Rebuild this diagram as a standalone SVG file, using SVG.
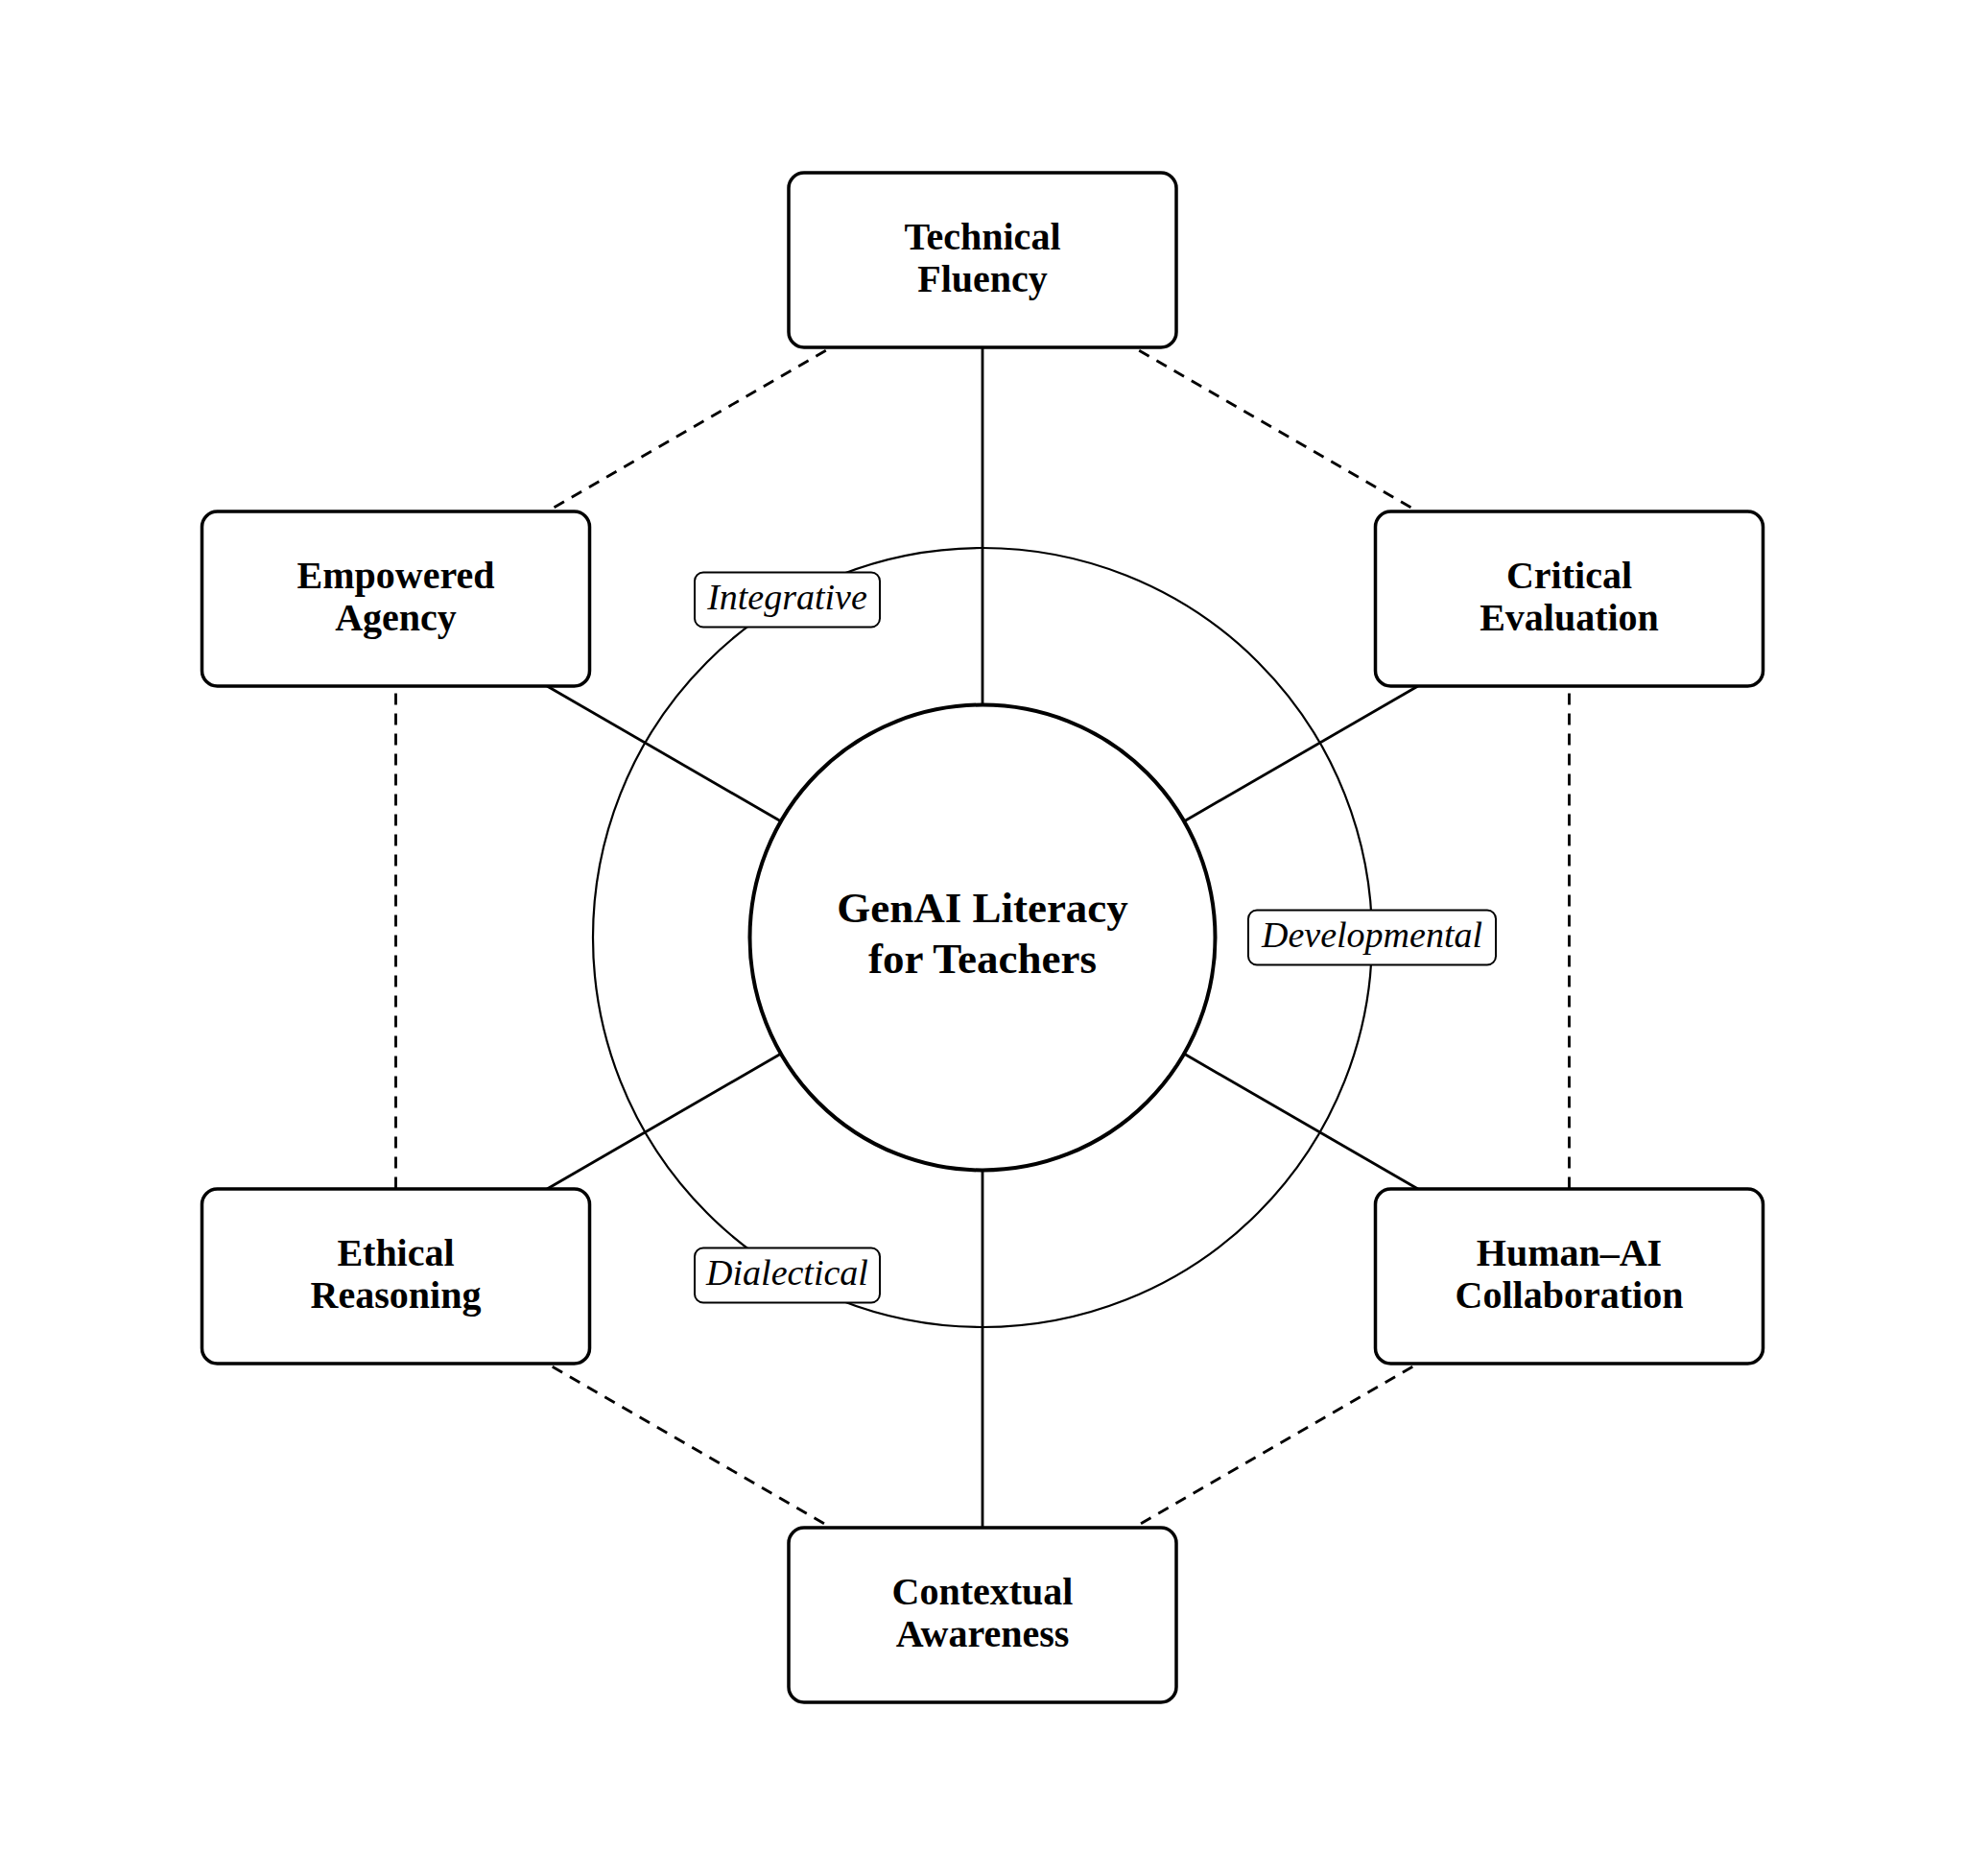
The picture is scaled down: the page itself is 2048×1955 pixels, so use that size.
<svg xmlns="http://www.w3.org/2000/svg" width="2048" height="1955" viewBox="0 0 2048 1955">
<style>
.node rect{fill:#fff;stroke:#000;stroke-width:3.5}
.node text{font-family:"Liberation Serif","Times New Roman",serif;font-weight:bold;font-size:40px;text-anchor:middle;fill:#000}
.spoke{stroke:#000;stroke-width:2.8;fill:none}
.dash{stroke:#000;stroke-width:2.8;fill:none;stroke-dasharray:12 9;stroke-dashoffset:14.5}
.lbl rect{fill:#fff;stroke:#000;stroke-width:2}
.lbl text{font-family:"Liberation Serif","Times New Roman",serif;font-style:italic;font-size:38px;text-anchor:middle;fill:#000}
.hub text{font-family:"Liberation Serif","Times New Roman",serif;font-weight:bold;font-size:45px;text-anchor:middle;fill:#000}
</style>
<rect width="2048" height="1955" fill="#fff"/>
<circle id="ring" cx="1024" cy="977" r="406" fill="none" stroke="#000" stroke-width="2.2"/>
<g id="connectors">
<line class="dash" x1="866.4" y1="362" x2="570.1" y2="533"/>
<line class="dash" x1="1181.6" y1="362" x2="1477.9" y2="533"/>
<line class="dash" x1="412.5" y1="716" x2="412.5" y2="1239"/>
<line class="dash" x1="1635.5" y1="716" x2="1635.5" y2="1239"/>
<line class="dash" x1="570.1" y1="1421" x2="866.4" y2="1592"/>
<line class="dash" x1="1477.9" y1="1421" x2="1181.6" y2="1592"/>
<line class="spoke" x1="1024" y1="734.5" x2="1024" y2="362"/>
<line class="spoke" x1="1024" y1="1219.5" x2="1024" y2="1592"/>
<line class="spoke" x1="813.6" y1="855.7" x2="570.2" y2="715"/>
<line class="spoke" x1="1234.4" y1="855.7" x2="1477.8" y2="715"/>
<line class="spoke" x1="813.6" y1="1098.3" x2="570.2" y2="1239"/>
<line class="spoke" x1="1234.4" y1="1098.3" x2="1477.8" y2="1239"/>
</g>
<g id="hub" class="hub">
<circle cx="1024" cy="977" r="242.5" fill="#fff" stroke="#000" stroke-width="4"/>
<text x="1024" y="961">GenAI Literacy</text>
<text x="1024" y="1014">for Teachers</text>
</g>
<g id="label-integrative" class="lbl">
<rect x="724" y="596.5" width="193" height="57" rx="9"/>
<text x="820.5" y="635">Integrative</text>
</g>
<g id="label-developmental" class="lbl">
<rect x="1301" y="948.5" width="258" height="57" rx="9"/>
<text x="1430" y="987">Developmental</text>
</g>
<g id="label-dialectical" class="lbl">
<rect x="724" y="1300.5" width="193" height="57" rx="9"/>
<text x="820.5" y="1339">Dialectical</text>
</g>
<g id="node-technical" class="node">
<rect x="822" y="180" width="404" height="182" rx="16"/>
<text x="1024" y="259.5">Technical</text>
<text x="1024" y="303.5">Fluency</text>
</g>
<g id="node-empowered" class="node">
<rect x="210.5" y="533" width="404" height="182" rx="16"/>
<text x="412.5" y="612.5">Empowered</text>
<text x="412.5" y="656.5">Agency</text>
</g>
<g id="node-critical" class="node">
<rect x="1433.5" y="533" width="404" height="182" rx="16"/>
<text x="1635.5" y="612.5">Critical</text>
<text x="1635.5" y="656.5">Evaluation</text>
</g>
<g id="node-ethical" class="node">
<rect x="210.5" y="1239" width="404" height="182" rx="16"/>
<text x="412.5" y="1318.5">Ethical</text>
<text x="412.5" y="1362.5">Reasoning</text>
</g>
<g id="node-humanai" class="node">
<rect x="1433.5" y="1239" width="404" height="182" rx="16"/>
<text x="1635.5" y="1318.5">Human–AI</text>
<text x="1635.5" y="1362.5">Collaboration</text>
</g>
<g id="node-contextual" class="node">
<rect x="822" y="1592" width="404" height="182" rx="16"/>
<text x="1024" y="1671.5">Contextual</text>
<text x="1024" y="1715.5">Awareness</text>
</g>
</svg>
